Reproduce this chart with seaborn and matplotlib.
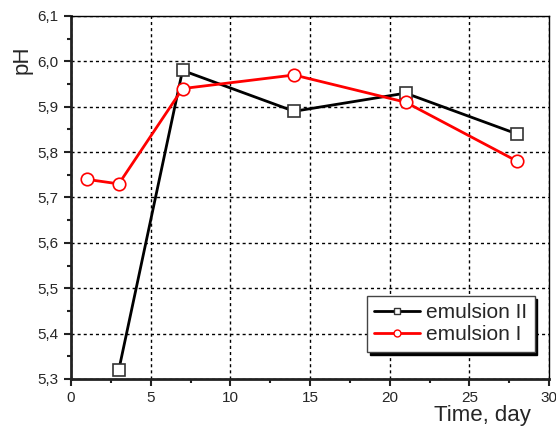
import matplotlib
matplotlib.use("Agg")
import matplotlib.pyplot as plt
import seaborn as sns
import pandas as pd
from matplotlib.ticker import MultipleLocator, FuncFormatter

sns.set_style("white")
plt.rcParams['font.family'] = ['Liberation Sans', 'DejaVu Sans']

days_II = [3, 7, 14, 21, 28]
ph_II = [5.32, 5.98, 5.89, 5.93, 5.84]
days_I = [1, 3, 7, 14, 21, 28]
ph_I = [5.74, 5.73, 5.94, 5.97, 5.91, 5.78]

df_II = pd.DataFrame({"day": days_II, "pH": ph_II, "series": "emulsion II"})
df_I = pd.DataFrame({"day": days_I, "pH": ph_I, "series": "emulsion I"})

fig = plt.figure(figsize=(5.56, 4.34), dpi=100)
ax = fig.add_axes([71/556, 55/434, 478/556, 363/434])

sns.lineplot(data=df_II, x="day", y="pH", ax=ax, color="black", lw=2,
             marker="s", markersize=8, markerfacecolor="white",
             markeredgecolor="#333333", markeredgewidth=1.2, label="emulsion II")
sns.lineplot(data=df_I, x="day", y="pH", ax=ax, color="red", lw=2,
             marker="o", markersize=9, markerfacecolor="white",
             markeredgecolor="red", markeredgewidth=1.2, label="emulsion I")

ax.set_xlim(0, 30)
ax.set_ylim(5.3, 6.1)
ax.xaxis.set_major_locator(MultipleLocator(5))
ax.xaxis.set_minor_locator(MultipleLocator(2.5))
ax.yaxis.set_major_locator(MultipleLocator(0.1))
ax.yaxis.set_minor_locator(MultipleLocator(0.05))
ax.yaxis.set_major_formatter(FuncFormatter(lambda v, p: f"{v:.1f}".replace(".", ",")))
ax.xaxis.set_major_formatter(FuncFormatter(lambda v, p: f"{int(round(v))}"))

ax.grid(True, which="major", color="black", linestyle=(0, (2.2, 2.2)), linewidth=1)
ax.set_axisbelow(True)

for s in ["left", "bottom"]:
    ax.spines[s].set_linewidth(2)
    ax.spines[s].set_color("#222222")
for s in ["top", "right"]:
    ax.spines[s].set_linewidth(1)
    ax.spines[s].set_color("black")

ax.tick_params(axis="both", which="major", direction="out", length=5, width=1.5,
               labelsize=11, color="#222222", bottom=True, left=True, pad=4)
ax.tick_params(axis="both", which="minor", direction="out", length=3, width=1.5,
               color="#222222", bottom=True, left=True)

ax.set_xlabel("Time, day", fontsize=16, ha="right")
ax.xaxis.set_label_coords(0.963, -0.072)
ax.set_ylabel("pH", fontsize=16)
ax.yaxis.set_label_coords(-0.08, 0.879)

leg = ax.legend(loc="lower right", bbox_to_anchor=(0.97, 0.075), fontsize=15,
                frameon=True, fancybox=False, shadow={"color": "black", "alpha": 1},
                handlelength=2.2, handletextpad=0.3, borderpad=0.35, labelspacing=0.15,
                borderaxespad=0)
leg.get_frame().set_edgecolor("#444444")
leg.get_frame().set_linewidth(1)
for h in leg.legend_handles:
    h.set_markersize(5)
    h.set_markeredgewidth(1)

fig.savefig("out.png", dpi=100)
